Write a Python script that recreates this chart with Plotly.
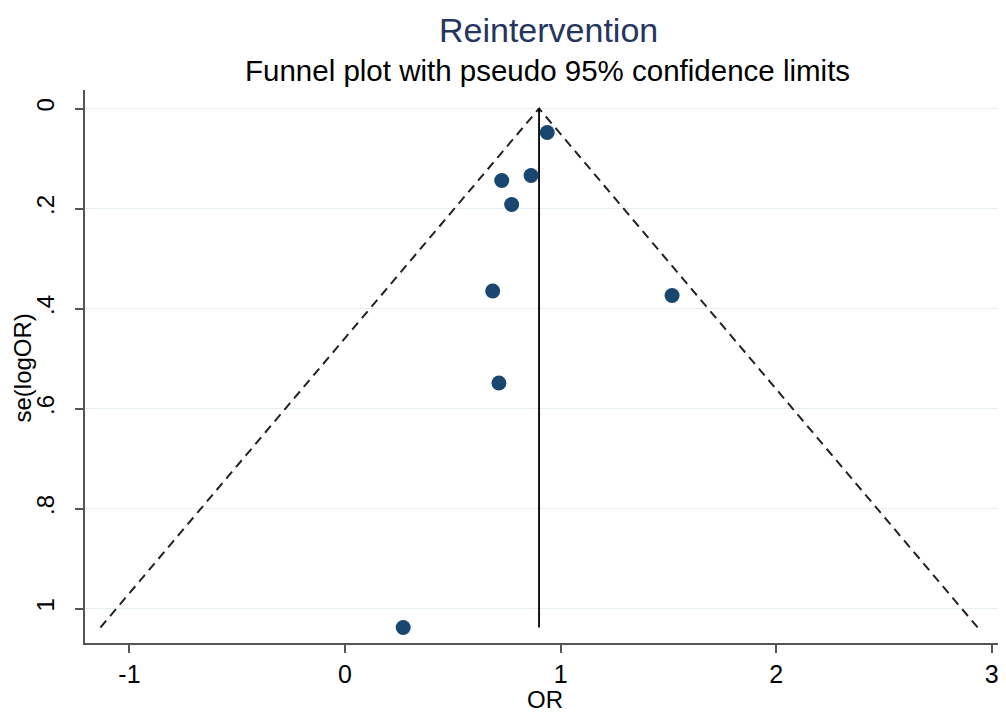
import plotly.graph_objects as go

# Data
log_or = [0.938, 0.863, 0.727, 0.773, 0.685, 1.517, 0.714, 0.270]
se_log_or = [0.048, 0.134, 0.144, 0.192, 0.365, 0.374, 0.549, 1.038]
pooled = 0.90
se_max = 1.038
z95 = 1.96

x_ticks = [-1, 0, 1, 2, 3]
y_ticks = [0, 0.2, 0.4, 0.6, 0.8, 1.0]
y_tick_text = ["0", ".2", ".4", ".6", ".8", "1"]

FONT = "Liberation Sans, Arial, Helvetica, sans-serif"
DOT = "#1a476f"

fig = go.Figure()

# pseudo 95% confidence limits
fig.add_trace(go.Scatter(
    x=[pooled - z95 * se_max, pooled, pooled + z95 * se_max],
    y=[se_max, 0, se_max],
    mode="lines",
    line=dict(color="#222222", width=2, dash="9px,6px"),
    hoverinfo="skip", showlegend=False,
))
# pooled estimate line
fig.add_trace(go.Scatter(
    x=[pooled, pooled], y=[0, se_max],
    mode="lines",
    line=dict(color="black", width=1.8),
    hoverinfo="skip", showlegend=False,
))
# studies
fig.add_trace(go.Scatter(
    x=log_or, y=se_log_or,
    mode="markers",
    marker=dict(color=DOT, size=15, line=dict(width=0)),
    showlegend=False,
))

fig.update_layout(
    width=998, height=709,
    margin=dict(l=77, r=0, t=82, b=74),
    paper_bgcolor="white", plot_bgcolor="white",
    font=dict(family=FONT, color="black", size=24),
    showlegend=False,
    xaxis=dict(
        range=[-1.206, 3.066],
        tickvals=x_ticks,
        ticktext=[str(v) for v in x_ticks],
        showgrid=False, zeroline=False, automargin=False,
        showline=True, linecolor="#555555", linewidth=1.5,
        ticks="outside", ticklen=8, tickwidth=1.5, tickcolor="#555555",
        tickfont=dict(size=25, family=FONT, color="black"),
    ),
    yaxis=dict(
        range=[1.069, -0.037],
        tickvals=y_ticks,
        ticktext=y_tick_text,
        tickangle=-90,
        ticklabelstandoff=12,
        showgrid=True, gridcolor="#e6eff0", gridwidth=1.2,
        zeroline=False, automargin=False,
        showline=True, linecolor="#555555", linewidth=1.5,
        ticks="outside", ticklen=8, tickwidth=1.5, tickcolor="#555555",
        tickfont=dict(size=24, family=FONT, color="black"),
    ),
    annotations=[
        dict(text="Reintervention", xref="paper", yref="paper",
             x=0.503, y=1.146, xanchor="center", yanchor="top",
             showarrow=False, font=dict(size=34, family=FONT, color="#24355f")),
        dict(text="Funnel plot with pseudo 95% confidence limits", xref="paper", yref="paper",
             x=0.502, y=1.036, xanchor="center", yanchor="middle",
             showarrow=False, font=dict(size=29.5, family=FONT, color="black")),
        dict(text="OR", xref="paper", yref="paper",
             x=0.4995, y=-0.131, xanchor="center", yanchor="bottom",
             showarrow=False, font=dict(size=24, family=FONT, color="black")),
        dict(text="se(logOR)", xref="paper", yref="paper",
             x=-0.068, y=0.497, xanchor="center", yanchor="middle", textangle=-90,
             showarrow=False, font=dict(size=24, family=FONT, color="black")),
    ],
)

fig.write_html("out.html")
